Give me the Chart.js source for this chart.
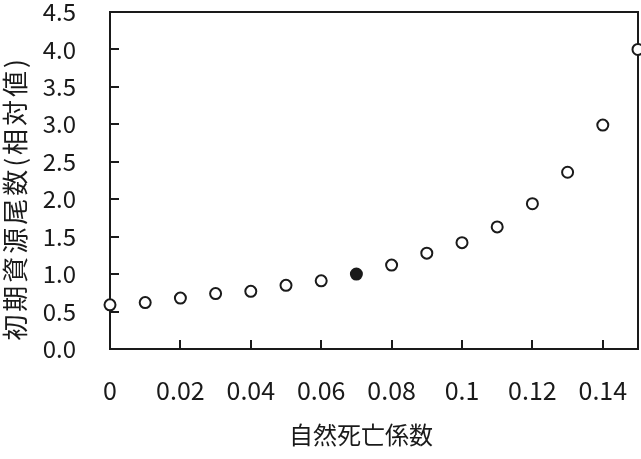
<!DOCTYPE html>
<html>
<head>
<meta charset="utf-8">
<script src="https://cdn.jsdelivr.net/npm/chart.js@4/dist/chart.umd.min.js"></script>
<style>
html, body { margin: 0; padding: 0; background: #ffffff; }
#wrap { width: 641px; height: 459px; }
</style>
</head>
<body>
<div id="wrap"><canvas id="c" width="641" height="459"></canvas></div>
<script>
// ---- data ----
const mortalityCoefficients = [0, 0.01, 0.02, 0.03, 0.04, 0.05, 0.06, 0.07, 0.08, 0.09, 0.10, 0.11, 0.12, 0.13, 0.14, 0.15];
const initialStockRelative = [0.59, 0.62, 0.68, 0.74, 0.77, 0.85, 0.91, 1.00, 1.12, 1.28, 1.42, 1.63, 1.94, 2.36, 2.99, 4.00];
const baseCoefficient = 0.07;            // filled marker
const xTitle = '自然死亡係数';
const yTitle = '初期資源尾数(相対値)';
const xMin = 0, xMax = 0.15, xStep = 0.02;
const yMin = 0, yMax = 4.5, yStep = 0.5;

const INK = '#1a1a1a';
const FONT = '"Noto Sans CJK JP", "Noto Sans", sans-serif';

const points = mortalityCoefficients.map((x, i) => ({ x: x, y: initialStockRelative[i] }));
const fills = mortalityCoefficients.map(x => Math.abs(x - baseCoefficient) < 1e-9 ? INK : '#ffffff');

function noPadding(scale) {
  scale.paddingTop = 0; scale.paddingBottom = 0;
  scale.paddingLeft = 0; scale.paddingRight = 0;
}

const framePlugin = {
  id: 'frameAndTitles',
  beforeDatasetsDraw(chart) {
    const { ctx, chartArea: a } = chart;
    ctx.save();
    ctx.strokeStyle = INK;
    ctx.lineWidth = 2;
    ctx.strokeRect(a.left, a.top, a.right - a.left, a.bottom - a.top);
    ctx.restore();
  },
  afterDraw(chart) {
    const { ctx, chartArea: a } = chart;
    ctx.save();
    ctx.fillStyle = INK;
    ctx.textAlign = 'center';
    ctx.textBaseline = 'middle';
    // x-axis title
    ctx.font = '24px ' + FONT;
    ctx.letterSpacing = '0px';
    ctx.fillText(xTitle, 361, a.bottom + 86);
    // y-axis title (rotated)
    ctx.font = '26px ' + FONT;
    ctx.letterSpacing = '3px';
    ctx.translate(15, (a.top + a.bottom) / 2 + 18);
    ctx.rotate(-Math.PI / 2);
    ctx.fillText(yTitle, 0, 0);
    ctx.restore();
  }
};

new Chart(document.getElementById('c'), {
  type: 'scatter',
  data: {
    datasets: [{
      data: points,
      pointRadius: 5.5,
      pointHoverRadius: 5.5,
      pointBorderWidth: 2,
      pointBorderColor: INK,
      pointBackgroundColor: fills,
      showLine: false,
      clip: false
    }]
  },
  options: {
    responsive: false,
    animation: false,
    events: [],
    layout: { autoPadding: false, padding: { top: 12, right: 3, left: 0, bottom: 0 } },
    plugins: { legend: { display: false }, tooltip: { enabled: false } },
    scales: {
      x: {
        type: 'linear',
        min: xMin, max: xMax,
        border: { display: false },
        grid: { drawOnChartArea: false, drawTicks: true, tickLength: -9, color: INK, lineWidth: 2 },
        ticks: {
          stepSize: xStep,
          includeBounds: false,
          padding: 35,
          color: INK,
          font: { family: FONT, size: 25 },
          callback: v => String(Number(v.toFixed(2)))
        },
        afterFit(scale) { scale.height = 110; noPadding(scale); }
      },
      y: {
        type: 'linear',
        min: yMin, max: yMax,
        border: { display: false },
        grid: { drawOnChartArea: false, drawTicks: true, tickLength: -9, color: INK, lineWidth: 2 },
        ticks: {
          stepSize: yStep,
          padding: 43,
          color: INK,
          font: { family: FONT, size: 24 },
          callback: v => Number(v).toFixed(1)
        },
        afterFit(scale) { scale.width = 110; noPadding(scale); }
      }
    }
  },
  plugins: [framePlugin]
});
</script>
</body>
</html>
